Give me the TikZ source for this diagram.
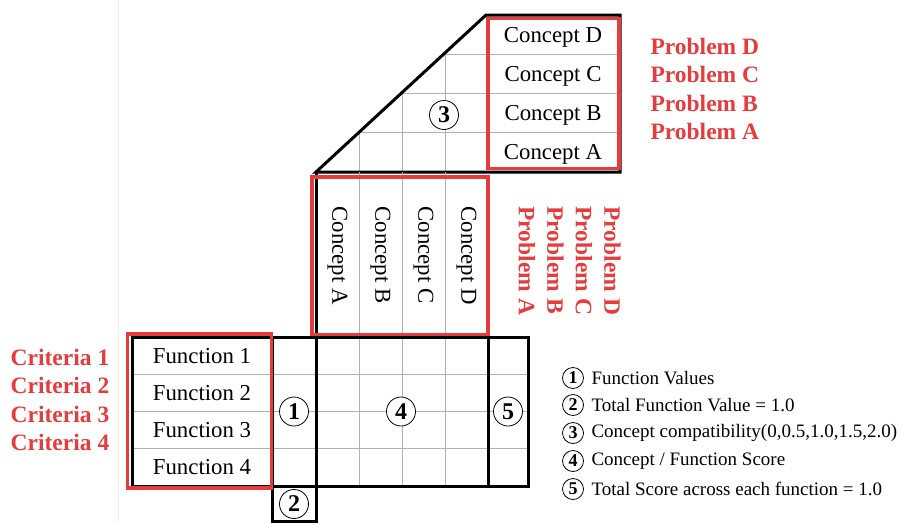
\documentclass[tikz,border=0pt]{standalone}
\usepackage{fontspec}
\setmainfont{Liberation Serif}
\definecolor{probred}{RGB}{229,60,62}

\begin{document}
\begin{tikzpicture}[x=1pt,y=-1pt,
	every node/.style={font=\fontsize{22.8}{26}\selectfont},
	redlabel/.style={text=probred,font=\fontsize{23.5}{27}\selectfont\bfseries},
	circnum/.style={circle,draw,fill=white,line width=0.8pt,inner sep=0pt,minimum size=29pt,font=\fontsize{24}{24}\selectfont\bfseries},
	smallnum/.style={circnum,minimum size=21pt,font=\fontsize{18}{18}\selectfont\bfseries},
	legend/.style={anchor=west,font=\fontsize{19}{22}\selectfont},
	gridline/.style={gray!60,line width=0.9pt},
	frame/.style={black,line width=3pt},
	redframe/.style={probred,line width=3.4pt}]
	\useasboundingbox (0,0) rectangle (901,523);
	\draw[gray!12, line width=0.8pt] (118,0) -- (118,523);
	% compatibility triangle
	\begin{scope}
		\clip (316,172) -- (486,15) -- (620,15) -- (620,172) -- cycle;
		\foreach \x in {359,402,445} \draw[gridline] (\x,15) -- (\x,172);
		\foreach \y in {54.25,93.5,132.75} \draw[gridline] (316,\y) -- (620,\y);
	\end{scope}
	\draw[frame] (316,172) -- (486,15) -- (620,15) -- (620,172) -- cycle;
	\draw[redframe] (488,18.5) rectangle (619,168.5);
	\foreach \n/\y in {D/37,C/76,B/115,A/154}
		\node (cr\n) at (553,\y) {Concept \n};
	\node[circnum] (n3) at (444,115) {3};
	% concept columns
	\foreach \x in {359,402,445} \draw[gridline] (\x,172) -- (\x,337);
	\draw[frame] (316,172) -- (316,337);
	\draw[redframe] (312,177) rectangle (488,335);
	\foreach \n/\x in {A/337.5,B/380.5,C/423.5,D/466.5}
		\node[rotate=-90,anchor=west] (cv\n) at (\x,203) {Concept \n};
	% function rows and score grid
	\foreach \x in {359,402,445} \draw[gridline] (\x,337) -- (\x,486);
	\foreach \y in {374.25,411.5,448.75} \draw[gridline] (132,\y) -- (528,\y);
	\draw[frame] (132,337) rectangle (272,486);
	\draw[frame] (272,337) rectangle (316,486);
	\draw[frame] (316,337) rectangle (488,486);
	\draw[frame] (488,337) rectangle (528,486);
	\draw[frame] (272,486) rectangle (316,521);
	\draw[redframe] (127.5,334) rectangle (271.5,488);
	\foreach \i/\y in {1/356,2/393,3/430,4/467}
		\node (fn\i) at (202,\y) {Function \i};
	\node[circnum] (n1) at (294,411.5) {1};
	\node[circnum] (n2) at (294,504) {2};
	\node[circnum] (n4) at (401,411.5) {4};
	\node[circnum] (n5) at (508,411.5) {5};
	% red labels
	\foreach \i/\y in {1/357,2/385.5,3/414,4/442.5}
		\node[redlabel] (crit\i) at (60,\y) {Criteria \i};
	\foreach \n/\y in {D/46,C/74.5,B/103,A/131.5}
		\node[redlabel,anchor=west] (ph\n) at (647,\y) {Problem \n};
	\foreach \n/\x in {A/527,B/555.5,C/584,D/612.5}
		\node[redlabel,rotate=-90,anchor=west] (pv\n) at (\x,203) {Problem \n};
	% legend
	\node[smallnum] (l1) at (573,378) {1};
	\node[smallnum] (l2) at (573,405) {2};
	\node[smallnum] (l3) at (573,433) {3};
	\node[smallnum] (l4) at (573,461) {4};
	\node[smallnum] (l5) at (573,489) {5};
	\node[legend] (t1) at (588,378) {Function Values};
	\node[legend] (t2) at (588,405) {Total Function Value = 1.0};
	\node[legend] (t3) at (588,433) {Concept compatibility(0,0.5,1.0,1.5,2.0)};
	\node[legend] (t4) at (588,461) {Concept / Function Score};
	\node[legend] (t5) at (588,489) {Total Score across each function = 1.0};
\end{tikzpicture}
\end{document}
